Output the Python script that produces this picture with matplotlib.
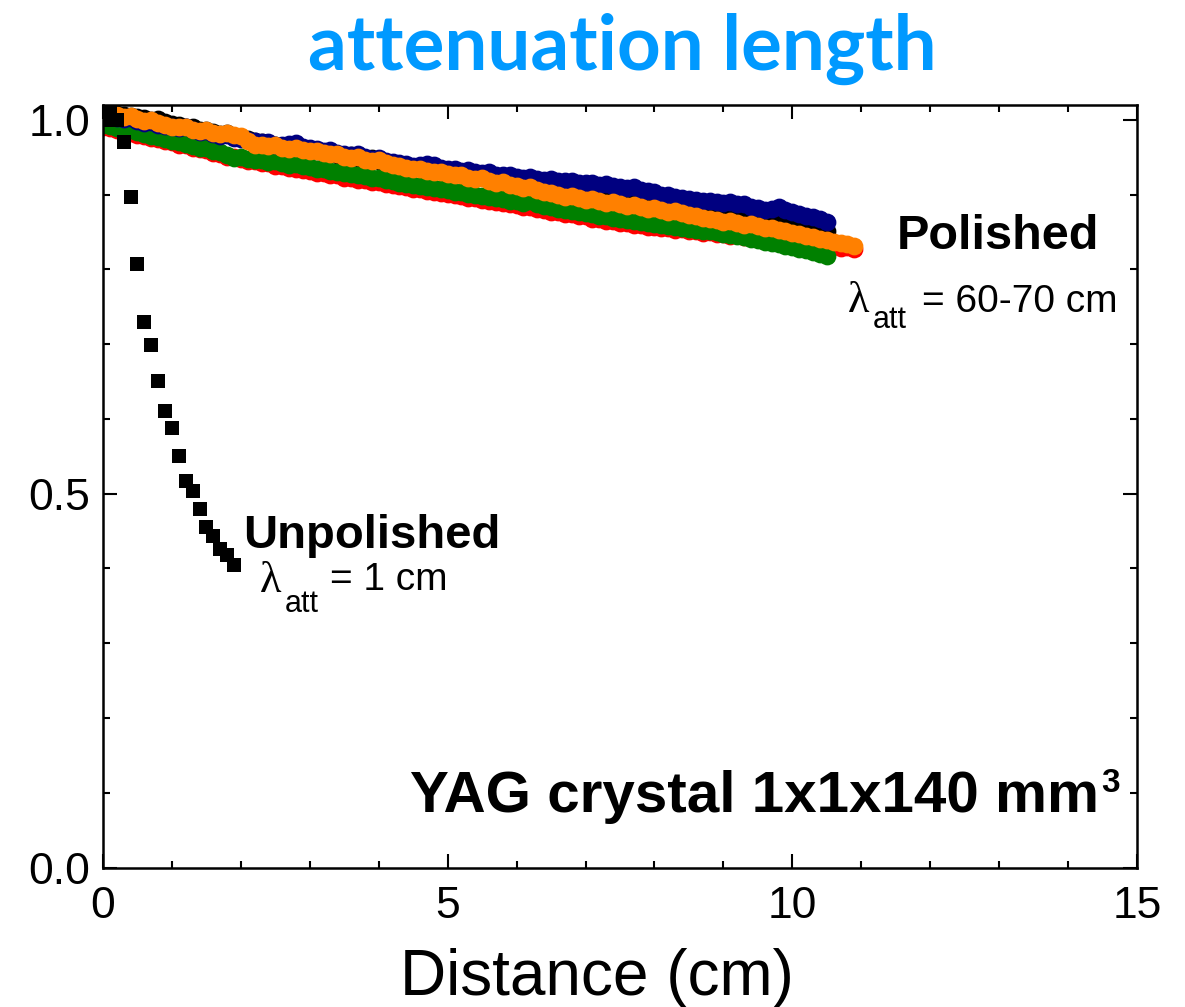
import numpy as np
import matplotlib
matplotlib.use("Agg")
import matplotlib.pyplot as plt
from matplotlib.ticker import MultipleLocator

# polished crystals, sampled every 0.1 cm from 0
dist_step = 0.1

polished_black = [
    1.010, 1.012, 1.008, 1.007, 1.005, 1.004, 1.002, 1.000, 1.001, 0.997,
    0.995, 0.993, 0.991, 0.990, 0.987, 0.986, 0.984, 0.981, 0.982, 0.978,
    0.976, 0.974, 0.972, 0.970, 0.969, 0.966, 0.965, 0.963, 0.962, 0.960,
    0.961, 0.958, 0.956, 0.957, 0.953, 0.952, 0.953, 0.949, 0.948, 0.949,
    0.945, 0.944, 0.942, 0.940, 0.939, 0.937, 0.936, 0.934, 0.933, 0.934,
    0.930, 0.929, 0.930, 0.926, 0.924, 0.925, 0.921, 0.919, 0.920, 0.916,
    0.914, 0.912, 0.913, 0.909, 0.907, 0.905, 0.902, 0.901, 0.902, 0.898,
    0.897, 0.898, 0.894, 0.893, 0.894, 0.890, 0.889, 0.890, 0.886, 0.885,
    0.886, 0.882, 0.881, 0.882, 0.878, 0.877, 0.876, 0.874, 0.872, 0.871,
    0.870, 0.871, 0.868, 0.866, 0.867, 0.864, 0.863, 0.864, 0.861, 0.860,
    0.861, 0.858, 0.857, 0.856, 0.854, 0.852]

polished_red = [
    0.990, 0.989, 0.986, 0.985, 0.983, 0.980, 0.979, 0.976, 0.975, 0.972,
    0.970, 0.967, 0.966, 0.963, 0.961, 0.960, 0.956, 0.955, 0.951, 0.950,
    0.948, 0.945, 0.945, 0.942, 0.942, 0.939, 0.938, 0.936, 0.935, 0.933,
    0.932, 0.929, 0.929, 0.926, 0.926, 0.923, 0.923, 0.920, 0.920, 0.917,
    0.917, 0.914, 0.913, 0.911, 0.910, 0.908, 0.907, 0.905, 0.904, 0.902,
    0.901, 0.899, 0.898, 0.896, 0.895, 0.893, 0.892, 0.890, 0.889, 0.887,
    0.886, 0.884, 0.883, 0.881, 0.880, 0.877, 0.877, 0.874, 0.874, 0.871,
    0.871, 0.868, 0.868, 0.865, 0.865, 0.862, 0.862, 0.860, 0.859, 0.857,
    0.857, 0.855, 0.855, 0.853, 0.854, 0.851, 0.852, 0.849, 0.850, 0.847,
    0.848, 0.845, 0.846, 0.843, 0.844, 0.841, 0.842, 0.839, 0.840, 0.837,
    0.838, 0.835, 0.836, 0.833, 0.834, 0.831, 0.832, 0.829, 0.830, 0.827]

polished_green = [
    0.993, 0.992, 0.989, 0.988, 0.986, 0.984, 0.981, 0.979, 0.977, 0.974,
    0.972, 0.970, 0.968, 0.965, 0.963, 0.962, 0.959, 0.957, 0.953, 0.949,
    0.951, 0.948, 0.947, 0.946, 0.944, 0.945, 0.942, 0.940, 0.941, 0.938,
    0.937, 0.935, 0.934, 0.932, 0.931, 0.929, 0.928, 0.926, 0.925, 0.923,
    0.922, 0.920, 0.918, 0.916, 0.914, 0.913, 0.912, 0.910, 0.909, 0.907,
    0.906, 0.904, 0.903, 0.901, 0.900, 0.898, 0.897, 0.895, 0.894, 0.892,
    0.891, 0.889, 0.891, 0.887, 0.885, 0.883, 0.881, 0.880, 0.878, 0.877,
    0.875, 0.874, 0.872, 0.871, 0.869, 0.868, 0.866, 0.865, 0.864, 0.862,
    0.861, 0.859, 0.858, 0.857, 0.855, 0.854, 0.853, 0.851, 0.852, 0.850,
    0.848, 0.846, 0.845, 0.843, 0.841, 0.839, 0.837, 0.836, 0.834, 0.832,
    0.830, 0.828, 0.826, 0.823, 0.821, 0.818]

polished_navy = [
    1.005, 1.006, 1.002, 1.001, 1.003, 0.998, 0.996, 0.997, 0.993, 0.992,
    0.991, 0.989, 0.990, 0.986, 0.984, 0.985, 0.981, 0.979, 0.980, 0.976,
    0.975, 0.973, 0.972, 0.970, 0.971, 0.967, 0.966, 0.968, 0.969, 0.964,
    0.962, 0.961, 0.959, 0.960, 0.956, 0.955, 0.953, 0.954, 0.950, 0.948,
    0.949, 0.945, 0.944, 0.942, 0.941, 0.938, 0.940, 0.941, 0.940, 0.936,
    0.934, 0.935, 0.932, 0.933, 0.930, 0.929, 0.930, 0.927, 0.926, 0.927,
    0.924, 0.923, 0.924, 0.921, 0.920, 0.921, 0.919, 0.918, 0.919, 0.916,
    0.915, 0.916, 0.913, 0.914, 0.911, 0.910, 0.909, 0.910, 0.906, 0.905,
    0.903, 0.900, 0.899, 0.897, 0.896, 0.894, 0.893, 0.891, 0.892, 0.890,
    0.889, 0.890, 0.887, 0.887, 0.884, 0.882, 0.880, 0.881, 0.883, 0.880,
    0.877, 0.874, 0.872, 0.870, 0.868, 0.864]

polished_orange = [
    1.008, 1.010, 1.006, 1.004, 1.005, 1.001, 0.999, 1.000, 0.996, 0.993,
    0.991, 0.990, 0.991, 0.987, 0.985, 0.986, 0.983, 0.981, 0.982, 0.980,
    0.979, 0.972, 0.966, 0.967, 0.965, 0.966, 0.963, 0.961, 0.962, 0.960,
    0.958, 0.959, 0.956, 0.954, 0.955, 0.951, 0.949, 0.950, 0.946, 0.945,
    0.946, 0.942, 0.940, 0.938, 0.936, 0.934, 0.935, 0.932, 0.930, 0.931,
    0.928, 0.926, 0.927, 0.923, 0.921, 0.922, 0.918, 0.916, 0.917, 0.913,
    0.911, 0.909, 0.910, 0.906, 0.904, 0.902, 0.899, 0.897, 0.898, 0.895,
    0.893, 0.894, 0.891, 0.889, 0.890, 0.887, 0.885, 0.886, 0.883, 0.881,
    0.882, 0.879, 0.877, 0.878, 0.875, 0.873, 0.872, 0.869, 0.867, 0.866,
    0.864, 0.865, 0.862, 0.860, 0.861, 0.858, 0.856, 0.855, 0.853, 0.851,
    0.849, 0.847, 0.845, 0.843, 0.841, 0.839, 0.837, 0.835, 0.834, 0.831]

# unpolished crystal
unpol_x = [0.0, 0.1, 0.2, 0.3, 0.4, 0.5, 0.6, 0.7, 0.8, 0.9,
           1.0, 1.1, 1.2, 1.3, 1.4, 1.5, 1.6, 1.7, 1.8, 1.9]
unpol_y = [1.000, 1.009, 1.000, 0.971, 0.897, 0.807, 0.730, 0.699, 0.651, 0.610,
           0.588, 0.551, 0.517, 0.503, 0.480, 0.456, 0.443, 0.426, 0.418, 0.405]

series = [
    (polished_black, 'black'),
    (polished_red, '#ff0000'),
    (polished_green, '#008000'),
    (polished_navy, '#000080'),
    (polished_orange, '#ff8000'),
]

SANS = 'Liberation Sans'
SERIF = 'Liberation Serif'

fig = plt.figure(figsize=(11.85, 10.07), dpi=100)
ax = fig.add_axes([103 / 1185, 1 - 867.5 / 1007, (1137 - 103) / 1185, (867.5 - 105) / 1007])

for vals, col in series:
    x = np.arange(len(vals)) * dist_step
    ax.plot(x, vals, 'o', color=col, ms=12.8, mew=0)

ax.plot(unpol_x, unpol_y, 's', color='black', ms=10.2, mew=0)

ax.set_xlim(0, 15)
ax.set_ylim(0, 1.02)
ax.xaxis.set_minor_locator(MultipleLocator(1))
ax.yaxis.set_minor_locator(MultipleLocator(0.1))
ax.set_yticks([0, 0.5, 1.0])
ax.set_yticklabels(['0.0', '0.5', '1.0'])
ax.set_xticks([0, 5, 10, 15])
ax.set_xticklabels(['0', '5', '10', '15'])

for s in ax.spines.values():
    s.set_linewidth(1.8)
ax.tick_params(which='both', direction='in', top=True, right=True, width=1.5)
ax.tick_params(which='major', length=10)
ax.tick_params(which='minor', length=5)
ax.tick_params(axis='x', which='major', pad=13, labelsize=32)
ax.tick_params(axis='y', which='major', pad=9, labelsize=32)
for lab in ax.get_xticklabels() + ax.get_yticklabels():
    lab.set_family(SANS)

# x label
fig.text(597 / 1185, 1 - 995 / 1007, 'Distance (cm)', family=SANS, fontsize=46,
         ha='center', va='baseline')

# title
fig.text(622 / 1185, 1 - 70 / 1007, 'attenuation length', family='Lato',
         weight='bold', fontsize=55, color='#0099ff', ha='center', va='baseline')

# annotations
ax.text(11.52, 0.827, 'Polished', family=SANS, weight='bold', fontsize=35, va='baseline')
ax.text(10.81, 0.743, '\u03bb', family=SERIF, fontsize=32, va='baseline')
ax.text(11.17, 0.722, 'att', family=SANS, fontsize=22, va='baseline')
ax.text(11.88, 0.743, '= 60-70 cm', family=SANS, fontsize=28, va='baseline')

ax.text(2.03, 0.428, 'Unpolished', family=SANS, weight='bold', fontsize=34, va='baseline')
ax.text(2.28, 0.369, '\u03bb', family=SERIF, fontsize=32, va='baseline')
ax.text(2.64, 0.342, 'att', family=SANS, fontsize=22, va='baseline')
ax.text(3.29, 0.371, '= 1 cm', family=SANS, fontsize=28, va='baseline')

yag = ax.text(4.45, 0.0743, 'YAG crystal 1x1x140 mm', family=SANS, weight='bold',
              fontsize=42, va='baseline')
fig.canvas.draw()
yag_right = yag.get_window_extent().x1
x3 = ax.transData.inverted().transform((yag_right + 2, 0))[0]
ax.text(x3, 0.101, '3', family=SANS, weight='bold', fontsize=24, va='baseline')

fig.savefig('out.png', dpi=100)
